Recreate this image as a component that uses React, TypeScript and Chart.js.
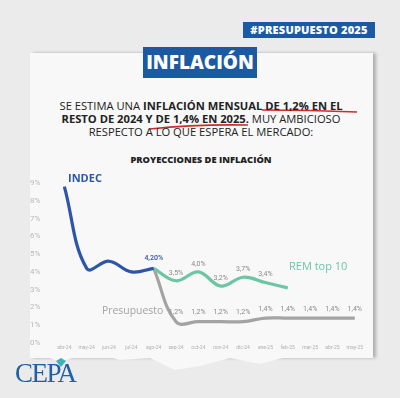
import React, { useEffect, useRef } from "react";
import { Chart, registerables } from "chart.js";

Chart.register(...registerables);

const categories = ["abr-24", "may-24", "jun-24", "jul-24", "ago-24", "sep-24", "oct-24", "nov-24", "dic-24", "ene-25", "feb-25", "mar-25", "abr-25", "may-25"];
const indec = [8.8, 4.2, 4.6, 4.0, 4.2, null, null, null, null, null, null, null, null, null];
const rem = [null, null, null, null, 4.2, 3.5, 4.0, 3.2, 3.7, 3.4, 3.1, null, null, null];
const presupuesto = [null, null, null, null, 4.2, 1.2, 1.2, 1.2, 1.2, 1.4, 1.4, 1.4, 1.4, 1.4];
const indecLabels = ["", "", "", "", "4,20%", "", "", "", "", "", "", "", "", ""];
const remLabels = ["", "", "", "", "", "3,5%", "4,0%", "3,2%", "3,7%", "3,4%", "", "", "", ""];
const presLabels = ["", "", "", "", "", "1,2%", "1,2%", "1,2%", "1,2%", "1,4%", "1,4%", "1,4%", "1,4%", "1,4%"];
const yTicks = [0, 1, 2, 3, 4, 5, 6, 7, 8, 9];

const BLUE = "#2d55a8";
const TEAL = "#6cc6a5";
const GREY = "#a3a3a3";

const labelPlugin = {
  id: "pointLabels",
  afterDatasetsDraw(chart: any) {
    const ctx = chart.ctx;
    const sets = [
      { i: 0, labels: indecLabels, color: BLUE, off: 10, font: "500 7px Roboto" },
      { i: 1, labels: remLabels, color: "#8a8a8a", off: 8, font: "7px Roboto" },
      { i: 2, labels: presLabels, color: "#8a8a8a", off: 9, font: "7px Roboto" },
    ];
    ctx.save();
    ctx.textAlign = "center";
    ctx.textBaseline = "middle";
    for (const s of sets) {
      const meta = chart.getDatasetMeta(s.i);
      meta.data.forEach((pt: any, k: number) => {
        const t = s.labels[k];
        if (!t) return;
        ctx.fillStyle = s.color;
        ctx.font = s.font;
        ctx.fillText(t, pt.x, pt.y - s.off);
      });
    }
    ctx.restore();
  },
};

function InflationChart() {
  const ref = useRef<HTMLCanvasElement | null>(null);
  useEffect(() => {
    if (!ref.current) return;
    const chart = new Chart(ref.current, {
      type: "line",
      data: {
        labels: categories,
        datasets: [
          { data: indec, borderColor: BLUE, borderWidth: 3.2, tension: 0.4, pointRadius: 0 },
          { data: rem, borderColor: TEAL, borderWidth: 3.2, tension: 0.4, pointRadius: 0 },
          { data: presupuesto, borderColor: GREY, borderWidth: 3.2, tension: 0.4, pointRadius: 0 },
        ],
      },
      options: {
        animation: false,
        responsive: false,
        maintainAspectRatio: false,
        layout: { padding: { left: 7, right: 8, top: 8, bottom: 4 } },
        plugins: { legend: { display: false }, tooltip: { enabled: false }, title: { display: false } },
        scales: {
          x: {
            offset: false,
            grid: { display: false, drawTicks: false },
            border: { display: false },
            ticks: { autoSkip: false, maxRotation: 0, font: { size: 5, family: "Roboto" }, color: "#b0b0b0", padding: 2 },
          },
          y: {
            min: 0,
            max: 9,
            afterBuildTicks: (axis: any) => {
              axis.ticks = yTicks.map((v) => ({ value: v }));
            },
            grid: { display: false, drawTicks: true, tickLength: 21 },
            border: { display: false },
            ticks: { callback: (v: any) => v + "%", font: { size: 8, family: "Roboto" }, color: "#b8b8b8", padding: 3 },
          },
        },
      },
      plugins: [labelPlugin],
    });
    return () => chart.destroy();
  }, []);
  return <canvas ref={ref} width={345} height={182} style={{ position: "absolute", left: 20, top: 175, width: 345, height: 182 }} />;
}

export default function App() {
  const sans = "'Open Sans', 'Noto Sans', sans-serif";
  return (
    <div style={{ position: "fixed", left: 0, top: 0, width: 400, height: 398, overflow: "hidden", background: "#ebebeb", fontFamily: sans }}>
      <div style={{ position: "absolute", left: 30, top: 53, width: 343, height: 305, background: "#f8f8f8", boxShadow: "3px 0 3px rgba(0,0,0,0.25)" }} />
      <svg width={400} height={398} style={{ position: "absolute", left: 0, top: 0 }}>
        <path d="M30 350 L60 362 L90 352 L120 360 L150 358 L175 370 L200 366 L230 358 L260 364 L290 356 L320 358 L350 350 L373 352 L373 340 L30 340 Z" fill="#f8f8f8" />
        <path d="M262 110 Q310 110 357 112" stroke="#d12a2a" strokeWidth={1.6} fill="none" />
        <path d="M150 129 Q197 124 248 125" stroke="#d12a2a" strokeWidth={1.6} fill="none" />
      </svg>
      <div style={{ position: "absolute", left: 243, top: 22, width: 132, height: 16, background: "#1b5aa3", color: "#fff", fontWeight: 800, fontSize: 11, lineHeight: "16px", textAlign: "center", letterSpacing: 0.2 }}>#PRESUPUESTO 2025</div>
      <div style={{ position: "absolute", left: 143, top: 47, width: 114, height: 31, background: "#1b5aa3", color: "#fff", fontWeight: 800, fontSize: 19, lineHeight: "31px", textAlign: "center" }}>INFLACIÓN</div>
      <div style={{ position: "absolute", left: 30, top: 99, width: 342, textAlign: "center", fontSize: 11.2, lineHeight: "13.2px", color: "#222", whiteSpace: "nowrap" }}>
        <div>SE ESTIMA UNA <b>INFLACIÓN MENSUAL DE 1,2% EN EL</b></div>
        <div><b>RESTO DE 2024 Y DE 1,4% EN 2025.</b> MUY AMBICIOSO</div>
        <div>RESPECTO A LO QUE ESPERA EL MERCADO:</div>
      </div>
      <div style={{ position: "absolute", left: 90, top: 153, width: 222, textAlign: "center", fontSize: 9.3, fontWeight: 800, color: "#222" }}>PROYECCIONES DE INFLACIÓN</div>
      <InflationChart />
      <div style={{ position: "absolute", left: 68, top: 170, fontSize: 11, fontWeight: 700, color: BLUE }}>INDEC</div>
      <div style={{ position: "absolute", left: 289, top: 258, fontSize: 11, color: TEAL }}>REM top 10</div>
      <div style={{ position: "absolute", left: 102, top: 303, fontSize: 10.4, color: GREY }}>Presupuesto</div>
      <div style={{ position: "absolute", left: 15, top: 358, fontSize: 27, lineHeight: "30px", fontFamily: "'Liberation Serif', 'DejaVu Serif', serif", color: "#2060a8", letterSpacing: -1.5 }}>CEPA</div>
      <svg width={12} height={10} style={{ position: "absolute", left: 55, top: 358 }}>
        <path d="M1 3 L6 0 L11 3 L6 9 Z" fill="#3cb4b4" />
      </svg>
    </div>
  );
}
